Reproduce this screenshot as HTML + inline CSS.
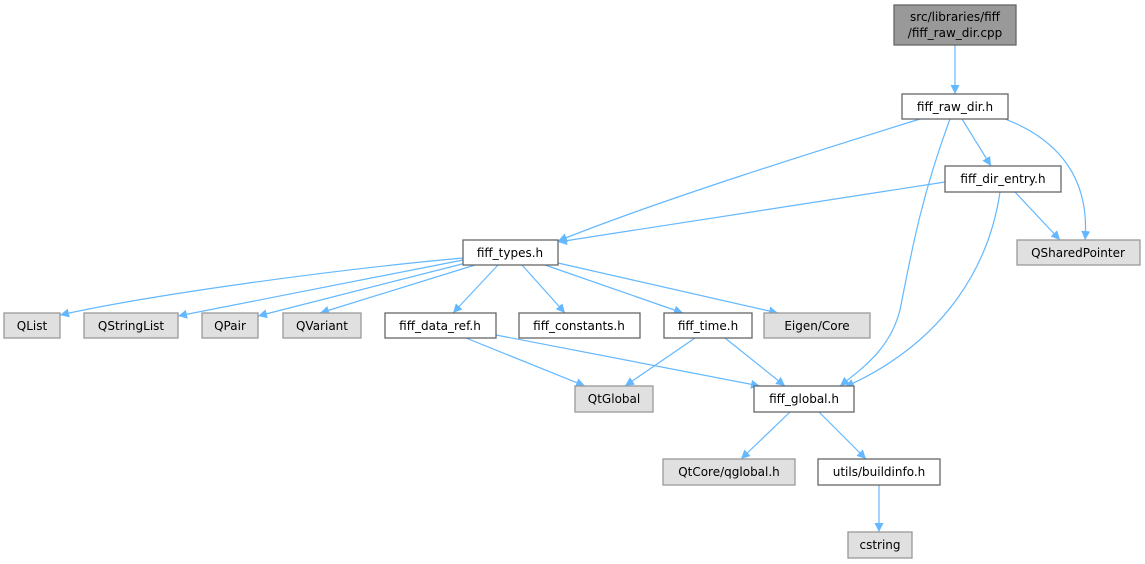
<!DOCTYPE html>
<html><head><style>
html,body{margin:0;padding:0;background:#fff;}
svg{display:block;}
text{font-family:"DejaVu Sans","Liberation Sans",sans-serif;font-size:12px;fill:#000;text-anchor:middle;}
.w{fill:#fff;stroke:#666;stroke-width:1.3}
.g{fill:#e0e0e0;stroke:#999;stroke-width:1.3}
.e{fill:none;stroke:#63b8ff;stroke-width:1.2}
</style></head><body>
<svg width="1145" height="564" viewBox="0 0 1145 564">
<defs><marker id="a" viewBox="0 0 10 10" refX="10" refY="5" markerWidth="9" markerHeight="9" orient="auto" markerUnits="userSpaceOnUse"><path d="M0,0L10,5L0,10z" fill="#63b8ff"/></marker></defs>
<g class="e" marker-end="url(#a)">
<path d="M955,45L955,94"/>
<path d="M920,119C820,150 660,200 558,241"/>
<path d="M962,119L991,166"/>
<path d="M1005,119C1060,140 1090,180 1085,240"/>
<path d="M950,119C920,200 910,260 900,310C890,350 860,370 840,386"/>
<path d="M945,182L558,242"/>
<path d="M1015,192L1060,240"/>
<path d="M1000,192C990,260 950,340 845,387"/>
<path d="M463,258C330,270 150,295 60,315"/>
<path d="M463,260L178,316"/>
<path d="M466,263L258,316"/>
<path d="M475,265L320,313"/>
<path d="M498,265L453,313"/>
<path d="M522,265L565,313"/>
<path d="M545,265L683,313"/>
<path d="M558,263L778,313"/>
<path d="M466,338L585,386"/>
<path d="M496,335L760,386"/>
<path d="M695,338L625,386"/>
<path d="M725,338L785,386"/>
<path d="M790,412L741,459"/>
<path d="M819,412L866,459"/>
<path d="M879,485L879,532"/>
</g>
<rect x="894" y="5" width="122" height="40" fill="#999" stroke="#666" stroke-width="1.3"/>
<text x="955" y="21">src/libraries/fiff</text>
<text x="955" y="37">/fiff_raw_dir.cpp</text>
<rect class="w" x="902" y="94" width="106" height="25"/><text x="955" y="111">fiff_raw_dir.h</text>
<rect class="w" x="945" y="166" width="116" height="26"/><text x="1003" y="183">fiff_dir_entry.h</text>
<rect class="g" x="1017" y="240" width="123" height="25"/><text x="1078" y="257">QSharedPointer</text>
<rect class="w" x="463" y="240" width="95" height="25"/><text x="510" y="257">fiff_types.h</text>
<rect class="g" x="4" y="313" width="56" height="25"/><text x="32" y="330">QList</text>
<rect class="g" x="84" y="313" width="94" height="25"/><text x="131" y="330">QStringList</text>
<rect class="g" x="202" y="313" width="56" height="25"/><text x="230" y="330">QPair</text>
<rect class="g" x="283" y="313" width="78" height="25"/><text x="322" y="330">QVariant</text>
<rect class="w" x="385" y="313" width="111" height="25"/><text x="440" y="330">fiff_data_ref.h</text>
<rect class="w" x="519" y="313" width="121" height="25"/><text x="579" y="330">fiff_constants.h</text>
<rect class="w" x="664" y="313" width="88" height="25"/><text x="708" y="330">fiff_time.h</text>
<rect class="g" x="764" y="313" width="106" height="25"/><text x="817" y="330">Eigen/Core</text>
<rect class="g" x="575" y="386" width="78" height="26"/><text x="614" y="403">QtGlobal</text>
<rect class="w" x="754" y="386" width="100" height="26"/><text x="804" y="403">fiff_global.h</text>
<rect class="g" x="663" y="459" width="132" height="26"/><text x="729" y="476">QtCore/qglobal.h</text>
<rect class="w" x="818" y="459" width="122" height="26"/><text x="879" y="476">utils/buildinfo.h</text>
<rect class="g" x="848" y="532" width="64" height="26"/><text x="880" y="549">cstring</text>
</svg>
</body></html>
